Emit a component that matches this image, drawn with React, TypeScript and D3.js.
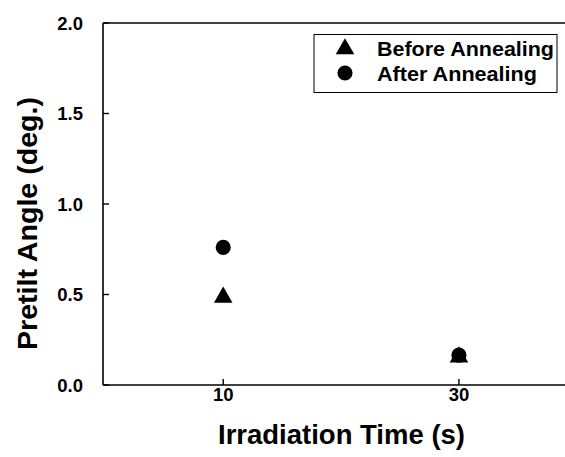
import React, { useEffect, useRef } from "react";
import * as d3 from "d3";

const xTicks = [10, 30];
const yTicks = [0, 0.5, 1.0, 1.5, 2.0];
const times = [10, 30];
const beforeAnnealing = [0.49, 0.16];
const afterAnnealing = [0.76, 0.165];
const seriesNames = ["Before Annealing", "After Annealing"];

const W = 565;
const H = 457;
const FONT = "'Liberation Sans', Arial, Helvetica, sans-serif";

export default function App() {
  const ref = useRef<SVGSVGElement>(null);

  useEffect(() => {
    const svg = d3.select(ref.current);
    svg.selectAll("*").remove();

    const x = d3.scaleLinear().domain([-0.2, 39]).range([103, 565]);
    const y = d3.scaleLinear().domain([0, 2]).range([385, 23]);
    const [x0, x1] = x.range();
    const [y0, y1] = y.range();

    svg.append("rect").attr("width", W).attr("height", H).attr("fill", "#fff");

    // frame
    const frame = svg.append("g").attr("stroke", "#000").attr("stroke-width", 1.6).attr("fill", "none");
    frame.append("line").attr("x1", x0).attr("x2", x0).attr("y1", y1).attr("y2", y0);
    frame.append("line").attr("x1", x0).attr("x2", x1).attr("y1", y0).attr("y2", y0);
    frame.append("line").attr("x1", x0).attr("x2", x1).attr("y1", y1).attr("y2", y1);

    // y ticks
    const yg = svg.append("g");
    yTicks.forEach((t) => {
      yg.append("line")
        .attr("x1", x0).attr("x2", x0 + 6)
        .attr("y1", y(t)).attr("y2", y(t))
        .attr("stroke", "#000").attr("stroke-width", 1.4);
      yg.append("text")
        .attr("x", x0 - 20).attr("y", y(t))
        .attr("dy", "0.36em")
        .attr("text-anchor", "end")
        .attr("font-family", FONT).attr("font-weight", "bold").attr("font-size", 18.5)
        .text(d3.format(".1f")(t));
    });

    // x ticks
    const xg = svg.append("g");
    xTicks.forEach((t) => {
      xg.append("line")
        .attr("x1", x(t)).attr("x2", x(t))
        .attr("y1", y0).attr("y2", y0 - 6)
        .attr("stroke", "#000").attr("stroke-width", 1.4);
      xg.append("text")
        .attr("x", x(t)).attr("y", 401)
        .attr("text-anchor", "middle")
        .attr("font-family", FONT).attr("font-weight", "bold").attr("font-size", 18.5)
        .text(String(t));
    });

    // axis titles
    svg.append("text")
      .attr("x", 218).attr("y", 444)
      .attr("textLength", 247).attr("lengthAdjust", "spacingAndGlyphs")
      .attr("font-family", FONT).attr("font-weight", "bold").attr("font-size", 27)
      .text("Irradiation Time (s)");
    svg.append("text")
      .attr("transform", `translate(37,350) rotate(-90)`)
      .attr("textLength", 253).attr("lengthAdjust", "spacingAndGlyphs")
      .attr("font-family", FONT).attr("font-weight", "bold").attr("font-size", 27)
      .text("Pretilt Angle (deg.)");

    const tri = d3.symbol().type(d3.symbolTriangle).size(150);
    const circ = d3.symbol().type(d3.symbolCircle).size(180);

    // data
    const pts = svg.append("g");
    times.forEach((t, i) => {
      pts.append("path")
        .attr("d", circ()!)
        .attr("transform", `translate(${x(t)},${y(afterAnnealing[i])})`)
        .attr("fill", "#000");
      pts.append("path")
        .attr("d", tri()!)
        .attr("transform", `translate(${x(t)},${y(beforeAnnealing[i]) + 1})`)
        .attr("fill", "#000");
    });

    // legend
    const lg = svg.append("g");
    lg.append("rect")
      .attr("x", 314).attr("y", 34.5).attr("width", 243).attr("height", 58)
      .attr("fill", "#fff").attr("stroke", "#000").attr("stroke-width", 1);
    lg.append("path").attr("d", tri()!).attr("transform", "translate(345,49)").attr("fill", "#000");
    lg.append("path").attr("d", circ()!).attr("transform", "translate(345,73)").attr("fill", "#000");
    const widths = [177, 160];
    seriesNames.forEach((n, i) => {
      lg.append("text")
        .attr("x", 377).attr("y", 56 + i * 25)
        .attr("textLength", widths[i]).attr("lengthAdjust", "spacingAndGlyphs")
        .attr("font-family", FONT).attr("font-weight", "bold").attr("font-size", 20)
        .text(n);
    });
  }, []);

  return (
    <svg
      ref={ref}
      width={W}
      height={H}
      style={{ position: "absolute", left: 0, top: 0 }}
    />
  );
}
